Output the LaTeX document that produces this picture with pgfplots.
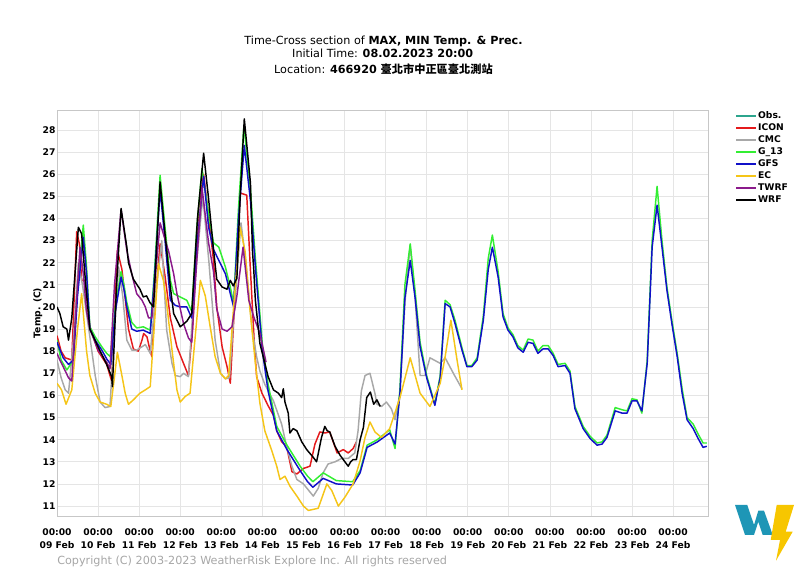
\documentclass[border=0pt]{standalone}
\usepackage{fontspec}
\setmainfont{DejaVu Sans}
\newfontfamily\cjk{Noto Sans CJK TC}
\usepackage{pgfplots}
\pgfplotsset{compat=1.18}

\definecolor{obs}{HTML}{2CA58D}
\definecolor{icon}{HTML}{E41A1C}
\definecolor{cmc}{HTML}{A8A8A8}
\definecolor{g13}{HTML}{33EE33}
\definecolor{gfs}{HTML}{1010C8}
\definecolor{ec}{HTML}{F5C518}
\definecolor{twrf}{HTML}{8B1A8B}
\definecolor{wrf}{HTML}{000000}
\definecolor{logoteal}{HTML}{1E96B6}
\definecolor{logoyel}{HTML}{F7C600}

\newcommand\tickfont{\fontsize{6.9}{9.75}\selectfont\bfseries}

\begin{document}
\begin{tikzpicture}
\path[use as bounding box] (0,0) rectangle (600pt,425.25pt);

% title
\node[font=\fontsize{8.4}{10}\selectfont, inner sep=0pt] at (287.6pt,394pt)
  {Time-Cross section of \textbf{MAX, MIN Temp. \& Prec.}};
\node[font=\fontsize{8.4}{10}\selectfont, inner sep=0pt] at (287pt,385.5pt)
  {Initial Time: \textbf{08.02.2023 20:00}};
\node[font=\fontsize{8.4}{10}\selectfont, inner sep=0pt] at (287.6pt,373.5pt)
  {Location: \textbf{466920 {\cjk 臺北市中正區臺北測站}}};

\begin{axis}[
  at={(42.75pt,38.25pt)}, anchor=south west,
  width=488.25pt, height=304.5pt, scale only axis,
  xmin=0, xmax=15.85, ymin=10.55, ymax=28.9,
  xtick={0,...,15},
  xticklabels={{00:00\\09 Feb},{00:00\\10 Feb},{00:00\\11 Feb},{00:00\\12 Feb},
    {00:00\\13 Feb},{00:00\\14 Feb},{00:00\\15 Feb},{00:00\\16 Feb},
    {00:00\\17 Feb},{00:00\\18 Feb},{00:00\\19 Feb},{00:00\\20 Feb},
    {00:00\\21 Feb},{00:00\\22 Feb},{00:00\\23 Feb},{00:00\\24 Feb}},
  ytick={11,...,28},
  grid=major,
  major grid style={draw=black!10, line width=0.5pt},
  axis line style={draw=black!22, line width=0.6pt},
  major tick length=0pt,
  tick label style={font=\tickfont},
  xticklabel style={align=center, yshift=-6pt},
  yticklabel style={inner sep=1pt},
  /pgf/number format/assume math mode=true,
  ylabel={Temp. (C)},
  ylabel style={font=\tickfont, inner sep=0pt, yshift=-1pt},
  legend style={at={(1.0415,1)}, anchor=north west, draw=none, fill=none,
    inner sep=0pt, font=\tickfont,
    nodes={inner sep=1pt, text height=5.5pt, text depth=1pt},
    row sep=0.5pt},
  legend cell align=left,
  legend image code/.code={\draw[#1] (0pt,0pt) -- (15pt,0pt);},
  every axis plot/.append style={line width=1.1pt, line join=round, mark=none},
]
\addlegendimage{obs, line width=1.1pt}
\addlegendentry{Obs.}

\addplot[icon] coordinates {
(0,18.7) (0.1,18.0) (0.2,17.7) (0.36,17.6) (0.48,23.4) (0.55,22.8) (0.6,21.2)
(0.68,21.2) (0.8,19.1) (1.0,18.0) (1.21,17.4) (1.33,16.65) (1.4,19.5) (1.47,22.55)
(1.58,21.7) (1.66,20.4) (1.74,19.0) (1.86,18.1) (1.98,18.0) (2.07,18.5) (2.11,18.8)
(2.19,18.65) (2.27,18.0) (2.31,17.75) (2.4,20.5) (2.51,22.85) (2.63,21.4) (2.76,19.5)
(2.92,18.2) (3.08,17.45) (3.2,16.9) (3.3,19.0) (3.45,24.5) (3.57,26.0) (3.69,24.1)
(3.81,22.1) (3.89,20.0) (4.02,18.2) (4.14,17.3) (4.22,16.55) (4.32,20.0) (4.46,25.15)
(4.62,25.05) (4.7,22.0) (4.8,18.5) (4.86,16.85) (4.99,16.1) (5.15,15.5) (5.27,15.1)
(5.35,14.4) (5.47,13.9) (5.59,13.7) (5.72,12.55) (5.84,12.45) (6.0,12.7) (6.16,12.8)
(6.28,13.8) (6.4,14.35) (6.52,14.3) (6.64,14.35) (6.82,13.4) (6.97,13.55) (7.09,13.4)
(7.21,13.6) (7.29,13.9)};
\addlegendentry{ICON}

\addplot[cmc] coordinates {
(0,17.6) (0.1,16.8) (0.2,16.25) (0.28,16.1) (0.4,18.5) (0.52,22.0) (0.62,21.0)
(0.8,18.65) (0.93,16.9) (1.05,15.7) (1.17,15.45) (1.29,15.5) (1.4,19.0) (1.5,21.8)
(1.6,20.5) (1.7,18.5) (1.82,18.05) (1.94,18.05) (2.07,18.2) (2.15,18.3) (2.27,17.9)
(2.4,20.5) (2.55,23.0) (2.67,18.95) (2.8,17.45) (2.88,16.9) (3.0,16.85) (3.08,17.0)
(3.2,16.85) (3.35,21.0) (3.55,25.0) (3.7,22.0) (3.85,18.5) (3.98,17.0) (4.1,16.75)
(4.2,16.8) (4.32,20.0) (4.48,23.8) (4.6,22.0) (4.75,19.0) (4.86,17.75) (4.94,17.1)
(5.06,16.5) (5.27,15.75) (5.47,14.7) (5.59,13.7) (5.72,12.8) (5.84,12.2) (6.0,12.0)
(6.24,11.45) (6.36,11.8) (6.48,12.5) (6.6,12.9) (6.77,13.0) (6.93,13.15) (7.09,13.15)
(7.25,13.4) (7.33,14.4) (7.41,16.2) (7.5,16.9) (7.62,17.0) (7.74,16.1) (7.79,15.6)
(7.9,15.5) (8.02,15.7) (8.14,15.4) (8.23,14.9) (8.35,16.1) (8.47,20.15) (8.6,22.8)
(8.72,20.4) (8.84,16.9) (8.96,16.9) (9.08,17.7) (9.33,17.45) (9.45,17.7) (9.65,17.0)
(9.86,16.3)};
\addlegendentry{CMC}

\addplot[g13] coordinates {
(0,18.5) (0.1,17.6) (0.24,17.15) (0.4,17.6) (0.5,20.8) (0.64,23.7) (0.72,21.8)
(0.8,19.1) (0.93,18.65) (1.09,18.2) (1.21,17.9) (1.3,17.75) (1.42,20.0) (1.56,21.6)
(1.63,21.0) (1.7,20.2) (1.82,19.3) (1.94,19.05) (2.1,19.1) (2.27,18.95) (2.38,21.8)
(2.51,25.95) (2.63,23.6) (2.76,21.2) (2.84,20.6) (3.0,20.45) (3.16,20.3) (3.28,19.8)
(3.4,23.5) (3.53,26.25) (3.69,24.2) (3.81,22.9) (3.94,22.7) (4.1,21.8) (4.22,20.9)
(4.3,20.15) (4.42,24.5) (4.55,28.2) (4.71,25.3) (4.83,22.2) (5.0,18.3) (5.14,16.5)
(5.35,14.6) (5.6,13.75) (5.92,12.8) (6.1,12.35) (6.23,12.1) (6.48,12.5) (6.8,12.15)
(7.2,12.1) (7.38,12.6) (7.55,13.75) (7.8,14.0) (8.1,14.45) (8.23,13.6) (8.35,16.3)
(8.47,21.0) (8.6,22.85) (8.72,20.7) (8.84,18.4) (9.0,16.9) (9.2,15.6) (9.33,16.9)
(9.45,20.3) (9.57,20.1) (9.69,19.4) (9.86,18.15) (9.98,17.35) (10.1,17.35) (10.23,17.7)
(10.38,19.6) (10.5,22.2) (10.6,23.25) (10.74,21.6) (10.86,19.7) (10.98,19.05)
(11.1,18.75) (11.22,18.25) (11.35,18.05) (11.47,18.55) (11.59,18.5) (11.71,18.0)
(11.83,18.25) (11.96,18.25) (12.08,17.9) (12.2,17.4) (12.37,17.45) (12.49,17.1)
(12.61,15.5) (12.81,14.6) (12.98,14.15) (13.15,13.85) (13.27,13.9) (13.39,14.2)
(13.59,15.45) (13.76,15.35) (13.88,15.3) (14.0,15.85) (14.12,15.8) (14.24,15.2)
(14.37,17.6) (14.49,23.0) (14.61,25.45) (14.73,23.0) (14.85,20.9) (14.97,19.4)
(15.1,17.9) (15.22,16.3) (15.34,15.0) (15.49,14.7) (15.61,14.25) (15.73,13.85)
(15.82,13.85)};
\addlegendentry{G\_13}

\addplot[gfs] coordinates {
(0,18.4) (0.15,17.7) (0.28,17.4) (0.4,17.6) (0.5,20.5) (0.64,23.15) (0.72,21.5)
(0.8,19.0) (0.93,18.5) (1.09,18.05) (1.21,17.65) (1.31,17.4) (1.42,19.8) (1.56,21.35)
(1.63,20.8) (1.7,20.0) (1.82,19.0) (1.94,18.9) (2.1,18.95) (2.27,18.8) (2.38,21.5)
(2.51,25.3) (2.63,23.0) (2.76,20.3) (2.88,20.07) (3.0,20.0) (3.16,20.0) (3.28,19.5)
(3.42,23.0) (3.57,25.9) (3.69,23.6) (3.81,22.6) (3.94,22.1) (4.1,21.5) (4.22,20.6)
(4.3,20.0) (4.42,24.0) (4.56,27.3) (4.71,24.8) (4.83,21.8) (5.0,18.0) (5.14,16.2)
(5.35,14.4) (5.6,13.55) (5.92,12.6) (6.1,12.1) (6.23,11.85) (6.48,12.25) (6.8,12.0)
(7.2,11.95) (7.38,12.5) (7.55,13.65) (7.8,13.9) (8.1,14.3) (8.23,13.8) (8.35,16.1)
(8.47,20.4) (8.6,22.1) (8.72,20.4) (8.84,18.2) (9.0,16.8) (9.2,15.55) (9.33,16.8)
(9.45,20.15) (9.57,20.0) (9.69,19.25) (9.86,18.05) (9.98,17.3) (10.1,17.3) (10.23,17.6)
(10.38,19.4) (10.5,21.7) (10.6,22.7) (10.74,21.35) (10.86,19.55) (10.98,18.95)
(11.1,18.65) (11.22,18.15) (11.35,17.95) (11.47,18.4) (11.59,18.35) (11.71,17.9)
(11.83,18.1) (11.96,18.1) (12.08,17.8) (12.2,17.3) (12.37,17.35) (12.49,17.0)
(12.61,15.4) (12.81,14.5) (12.98,14.05) (13.15,13.75) (13.27,13.8) (13.39,14.1)
(13.59,15.3) (13.76,15.2) (13.88,15.2) (14.0,15.75) (14.12,15.75) (14.24,15.3)
(14.37,17.45) (14.49,22.7) (14.61,24.6) (14.73,22.7) (14.85,20.75) (14.97,19.25)
(15.1,17.75) (15.22,16.1) (15.34,14.9) (15.49,14.5) (15.61,14.05) (15.73,13.65)
(15.82,13.7)};
\addlegendentry{GFS}

\addplot[ec] coordinates {
(0,16.55) (0.11,16.25) (0.22,15.6) (0.36,16.25) (0.5,19.0) (0.6,20.6) (0.72,18.0)
(0.8,16.9) (0.93,16.1) (1.05,15.7) (1.21,15.6) (1.31,15.5) (1.41,17.0) (1.47,17.95)
(1.58,16.9) (1.66,16.1) (1.74,15.6) (1.86,15.8) (2.02,16.1) (2.15,16.25) (2.27,16.4)
(2.47,21.95) (2.59,21.2) (2.67,20.15) (2.8,18.05) (2.92,16.25) (3.0,15.7) (3.12,15.95)
(3.24,16.1) (3.49,21.2) (3.61,20.5) (3.73,19.1) (3.85,17.75) (3.98,17.0) (4.1,16.75)
(4.18,16.9) (4.3,20.0) (4.46,23.6) (4.58,22.5) (4.7,19.85) (4.83,17.45) (4.94,15.65)
(5.06,14.4) (5.23,13.5) (5.35,12.8) (5.43,12.2) (5.55,12.35) (5.67,11.9) (5.84,11.45)
(6.0,11.0) (6.12,10.8) (6.36,10.9) (6.57,12.0) (6.69,11.7) (6.85,11.0) (7.01,11.4)
(7.21,12.0) (7.38,13.05) (7.5,14.1) (7.62,14.8) (7.74,14.35) (7.9,14.1) (8.1,14.5)
(8.35,15.9) (8.6,17.7) (8.84,16.1) (9.08,15.5) (9.33,16.55) (9.45,17.75) (9.59,19.4)
(9.74,17.6) (9.86,16.25)};
\addlegendentry{EC}

\addplot[twrf] coordinates {
(0,17.9) (0.07,17.6) (0.15,17.3) (0.28,16.8) (0.36,16.65) (0.45,19.5) (0.56,22.7)
(0.64,21.5) (0.72,19.8) (0.8,19.0) (1.0,18.05) (1.21,17.5) (1.29,17.2) (1.4,21.0)
(1.56,24.4) (1.7,22.55) (1.82,21.5) (1.94,20.6) (2.07,20.3) (2.15,20.0) (2.23,19.5)
(2.31,19.5) (2.4,21.5) (2.51,23.8) (2.59,23.3) (2.72,22.5) (2.84,21.5) (2.92,20.6)
(3.08,19.25) (3.2,18.6) (3.28,18.4) (3.4,22.0) (3.53,25.4) (3.69,22.9) (3.81,21.6)
(3.89,19.9) (4.02,19.0) (4.14,18.9) (4.26,19.1) (4.38,20.5) (4.53,22.7) (4.67,20.3)
(4.8,19.5) (4.94,18.8) (5.09,17.5)};
\addlegendentry{TWRF}

\addplot[wrf] coordinates {
(0,20.0) (0.07,19.7) (0.15,19.1) (0.24,19.0) (0.28,18.5) (0.36,19.5) (0.52,23.6)
(0.6,23.3) (0.7,21.0) (0.8,19.0) (1.0,18.2) (1.21,17.4) (1.33,16.85) (1.35,16.4)
(1.45,21.0) (1.56,24.45) (1.7,22.7) (1.74,22.0) (1.86,21.25) (2.02,20.8) (2.1,20.45)
(2.18,20.5) (2.26,20.2) (2.35,20.0) (2.42,22.5) (2.51,25.65) (2.63,23.3) (2.76,20.9)
(2.84,19.7) (3.0,19.1) (3.16,19.35) (3.28,19.7) (3.42,24.0) (3.57,26.95) (3.69,24.9)
(3.81,22.6) (3.89,21.25) (4.02,20.9) (4.14,20.8) (4.22,21.2) (4.29,20.95) (4.38,21.3)
(4.46,25.0) (4.56,28.5) (4.71,25.6) (4.76,22.5) (4.79,21.7) (4.83,20.3) (4.94,18.35)
(5.06,17.45) (5.14,16.85) (5.27,16.25) (5.39,16.1) (5.47,15.9) (5.51,16.3) (5.55,15.7)
(5.63,15.2) (5.67,14.3) (5.75,14.5) (5.84,14.4) (5.96,13.9) (6.08,13.55) (6.24,13.2)
(6.32,13.0) (6.44,14.1) (6.52,14.6) (6.58,14.4) (6.64,14.35) (6.77,13.7) (6.89,13.3)
(7.01,13.0) (7.09,12.8) (7.15,13.0) (7.21,13.1) (7.29,13.1) (7.38,14.0) (7.46,14.55)
(7.54,15.9) (7.63,16.15) (7.71,15.6) (7.79,15.8) (7.87,15.5)};
\addlegendentry{WRF}
\end{axis}

% copyright
\node[anchor=west, inner sep=0pt, font=\fontsize{8.4}{10}\selectfont, text=black!35]
  at (42.75pt,4.5pt) {Copyright (C) 2003-2023 WeatherRisk Explore Inc. All rights reserved};

% logo
\begin{scope}[shift={(0pt,425.25pt)}, x=0.75pt, y=-0.75pt]
\fill[logoteal] (735,505) -- (747.3,505) -- (754,525) -- (758.3,510.7) -- (764,510.7)
  -- (770,527.3) -- (772.7,535) -- (762.7,535) -- (758.3,521.7) -- (754,535)
  -- (745,535) -- cycle;
\fill[logoyel] (776.7,505) -- (794,505) -- (785.7,531.7) -- (792.7,531.7)
  -- (776,560.7) -- (780,540) -- (770.7,540) -- cycle;
\end{scope}
\end{tikzpicture}
\end{document}
